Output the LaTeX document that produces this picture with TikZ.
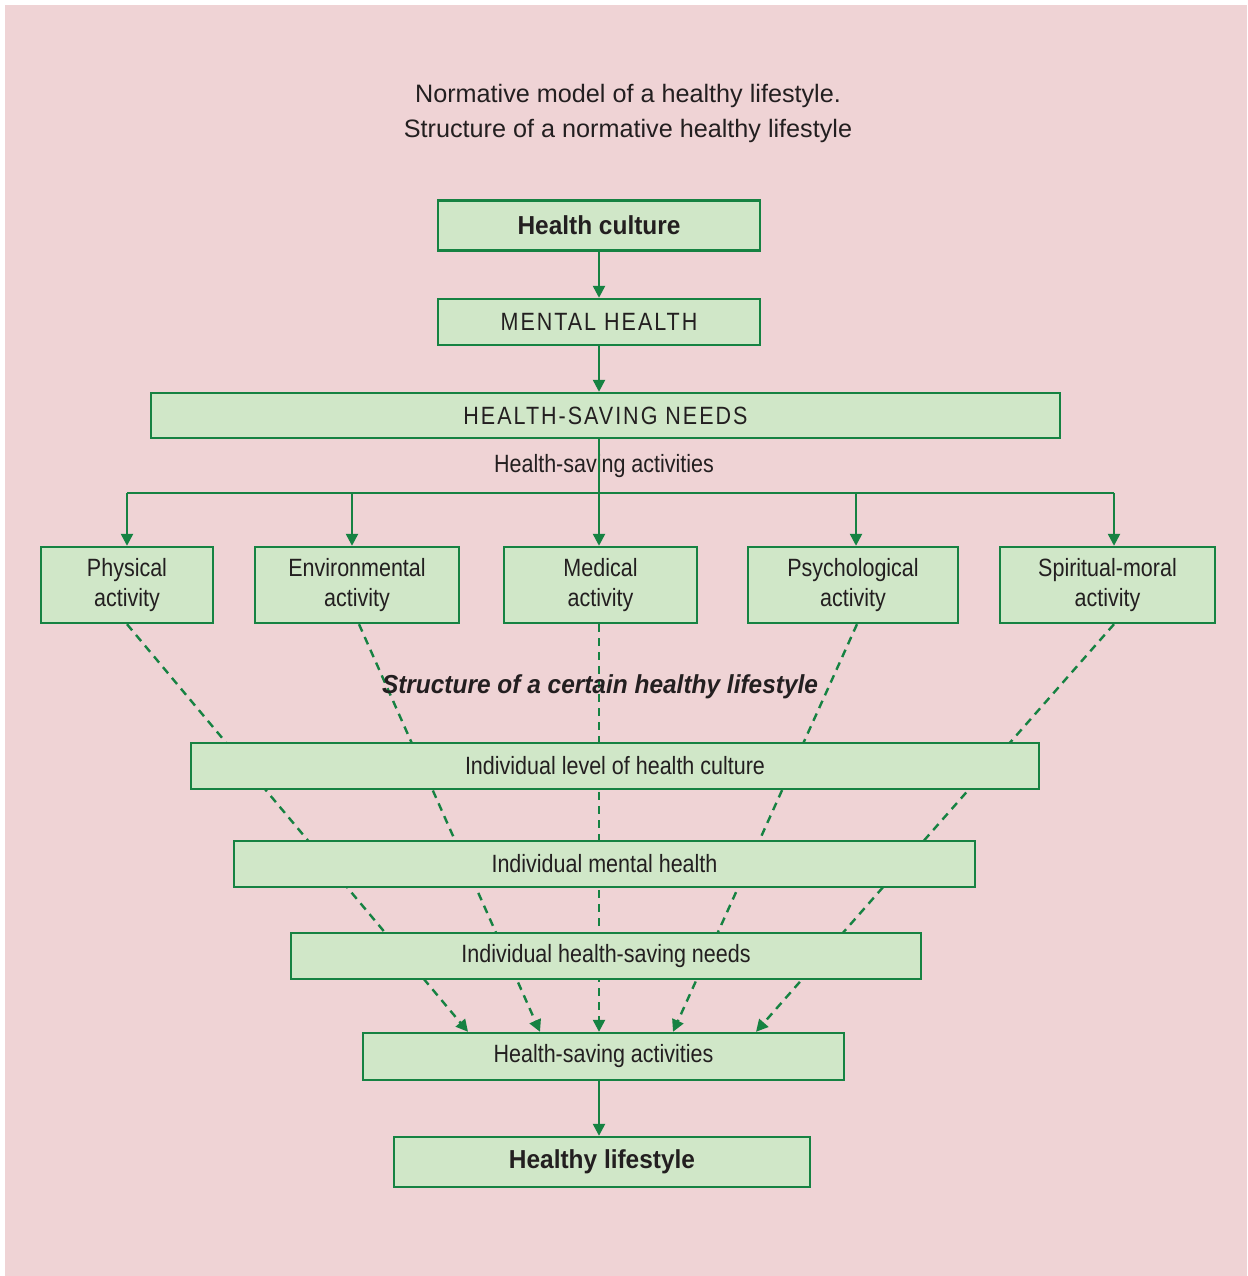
\documentclass[tikz,border=0pt]{standalone}
\usepackage{fontspec}
\setmainfont{Liberation Sans}
\newfontfamily\condfont{Liberation Sans}[FakeStretch=0.86]
\newfontfamily\bcondfont{Liberation Sans}[FakeStretch=0.94]
\newfontfamily\capsfont{Liberation Sans}[FakeStretch=0.86,LetterSpace=8]
\usetikzlibrary{arrows.meta,positioning}
\definecolor{bgpink}{RGB}{239,211,213}
\definecolor{boxgreen}{RGB}{208,231,200}
\definecolor{lgreen}{RGB}{22,130,66}
\definecolor{txt}{RGB}{35,31,32}
\pgfdeclarelayer{bglayer}
\pgfdeclarelayer{dashlayer}
\pgfsetlayers{bglayer,dashlayer,main}
\tikzset{
  box/.style={draw=lgreen, fill=boxgreen, line width=2.4pt, inner sep=0pt, text=txt, align=center},
  regtext/.style={font=\condfont\fontsize{25}{30}\selectfont},
  boldtext/.style={font=\bcondfont\bfseries\fontsize{26}{30}\selectfont},
  capstext/.style={font=\capsfont\fontsize{25}{30}\selectfont},
  conn/.style={draw=lgreen, line width=2.4pt},
  arr/.style={conn, -{Triangle[length=12pt,width=12pt]}},
  darr/.style={arr, dash pattern=on 8pt off 6pt},
}
\begin{document}
\begin{tikzpicture}[x=1pt,y=-1pt]
\useasboundingbox (0,0) rectangle (1247,1276);
\begin{pgfonlayer}{bglayer}
\fill[bgpink] (5,5) rectangle (1247,1276);
\end{pgfonlayer}

% title
\node[font=\fontsize{25.2}{35}\selectfont, align=center, text=txt, inner sep=0pt] (title) at (628,113) {Normative model of a healthy lifestyle.\\Structure of a normative healthy lifestyle};

% top chain
\node[box, boldtext, minimum width=322pt, minimum height=50pt] (hc) at (599,225.5) {Health culture};
\node[box, capstext, minimum width=322pt, minimum height=46pt] (mh) at (599,322) {MENTAL HEALTH};
\node[box, capstext, minimum width=909pt, minimum height=45pt] (hsn) at (605.5,415.5) {HEALTH-SAVING NEEDS};
\node[regtext, text=txt, inner sep=0pt] (hsalabel) at (604,466) {Health-saving activities};

% activity boxes
\node[box, regtext, minimum width=172pt, minimum height=76pt] (phys) at (127,585) {Physical\\activity};
\node[box, regtext, minimum width=204pt, minimum height=76pt] (env) at (357,585) {Environmental\\activity};
\node[box, regtext, minimum width=193pt, minimum height=76pt] (med) at (600.5,585) {Medical\\activity};
\node[box, regtext, minimum width=210pt, minimum height=76pt] (psy) at (853,585) {Psychological\\activity};
\node[box, regtext, minimum width=215pt, minimum height=76pt] (spir) at (1107.5,585) {Spiritual-moral\\activity};

\coordinate (bus) at (599,493);

% italic label
\node[font=\bcondfont\bfseries\itshape\fontsize{26}{30}\selectfont, text=txt, inner sep=0pt] (struct) at (600,687) {Structure of a certain healthy lifestyle};

% lower chain
\node[box, regtext, minimum width=848pt, minimum height=46pt] (ilhc) at (615,766) {Individual level of health culture};
\node[box, regtext, minimum width=741pt, minimum height=46pt] (imh) at (604.5,864) {Individual mental health};
\node[box, regtext, minimum width=630pt, minimum height=46pt] (ihsn) at (606,956) {Individual health-saving needs};
\node[box, regtext, minimum width=481pt, minimum height=47pt] (hsa) at (603.5,1056.5) {Health-saving activities};
\node[box, boldtext, minimum width=416pt, minimum height=50pt] (hl) at (602,1162) {Healthy lifestyle};

% solid connectors
\draw[arr] (hc) -- (mh);
\draw[arr] (hc.south |- mh.south) -- (hc.south |- hsn.north);
\draw[arr] (bus |- hsn.south) -- (bus |- med.north);
\draw[conn] (phys.north |- bus) -- ([xshift=6.5pt]spir.north |- bus);
\draw[arr] (phys.north |- bus) -- (phys.north);
\draw[arr] ([xshift=-5pt]env.north |- bus) -- ([xshift=-5pt]env.north);
\draw[arr] ([xshift=3pt]psy.north |- bus) -- ([xshift=3pt]psy.north);
\draw[arr] ([xshift=6.5pt]spir.north |- bus) -- ([xshift=6.5pt]spir.north);
\draw[arr] ([xshift=-3pt]hl.north |- hsa.south) -- ([xshift=-3pt]hl.north);

% dashed connectors (behind the boxes)
\begin{pgfonlayer}{dashlayer}
\draw[darr] (phys.south) -- ([xshift=-135.5pt]hsa.north);
\draw[darr] ([xshift=2pt]env.south) -- ([xshift=-63.5pt]hsa.north);
\draw[darr] ([xshift=-1.5pt]med.south) -- ([xshift=-4.5pt]hsa.north);
\draw[darr] ([xshift=4pt]psy.south) -- ([xshift=69.5pt]hsa.north);
\draw[darr] ([xshift=6.5pt]spir.south) -- ([xshift=152.5pt]hsa.north);
\end{pgfonlayer}
\end{tikzpicture}
\end{document}
